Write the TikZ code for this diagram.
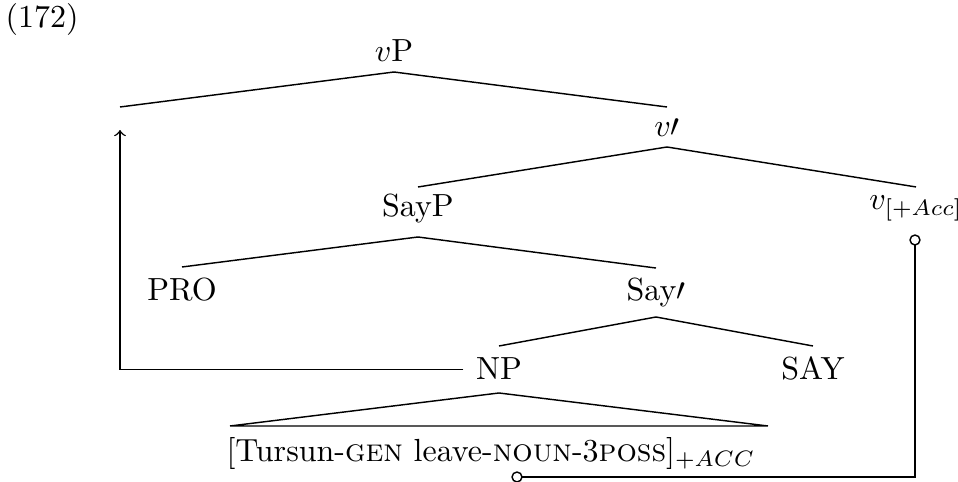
\documentclass[tikz,border=0pt]{standalone}
\begin{document}
\begin{tikzpicture}[x=0.3125pt,y=-0.3125pt,line width=0.45pt,
  lbl/.style={inner sep=0pt,outer sep=0pt,anchor=base},
  hook/.style={draw,circle,inner sep=0pt,outer sep=0pt,minimum size=3.1pt,fill=white},
  edge/.style={draw}]
\useasboundingbox (0,0) rectangle (958,482);
% labels
\node[lbl] (ex) at (42,28) {(172)};
\node[lbl,text depth=3.125pt] (vP) at (394,62) {$v$P};
\node[inner sep=0pt,outer sep=0pt,minimum height=7.2pt,minimum width=0pt,anchor=north] (spec) at (120,107) {};
\node[lbl,text height=9.375pt,text depth=3.125pt] (vbar) at (667,137) {$v\prime$};
\node[lbl,text height=9.375pt,text depth=6.25pt] (sayp) at (418,217) {SayP};
\node[lbl,text height=7.2pt] (vacc) at (916,210) {$v_{[+Acc]}$};
\node[lbl,text height=10.625pt] (pro) at (182,301) {PRO};
\node[lbl,text height=10.3pt,text depth=5pt] (saybar) at (656,301) {Say$\prime$};
\node[lbl,inner xsep=4pt,text height=10.625pt,text depth=4.06pt] (np) at (499,380) {NP};
\node[lbl,text height=10.625pt] (say) at (813,380) {SAY};
\node[inner sep=0pt,outer sep=0pt,minimum width=168.1pt,minimum height=0pt,anchor=north] (roof) at (499,426) {};
\node[lbl] (leaf) at (491,462) {[Tursun-\textsc{gen} leave-\textsc{noun}-3\textsc{poss}]$_{+ACC}$};
\node[hook] (h1) at (915,240) {};
\node[hook] (h2) at (517,477) {};
% tree edges
\draw (vP.south) -- (spec.north);
\draw (vP.south) -- (vbar.north);
\draw (vbar.south) -- (sayp.north);
\draw (vbar.south) -- (vacc.north);
\draw (sayp.south) -- (pro.north);
\draw (sayp.south) -- (saybar.north);
\draw (saybar.south) -- (np.north);
\draw (saybar.south) -- (say.north);
\draw (np.south) -- (roof.north west) -- (roof.north east) -- cycle;
% movement arrows
\draw[->] (np.west) -| (spec.south);
\draw (h1.south) |- (h2.east);
\end{tikzpicture}
\end{document}
